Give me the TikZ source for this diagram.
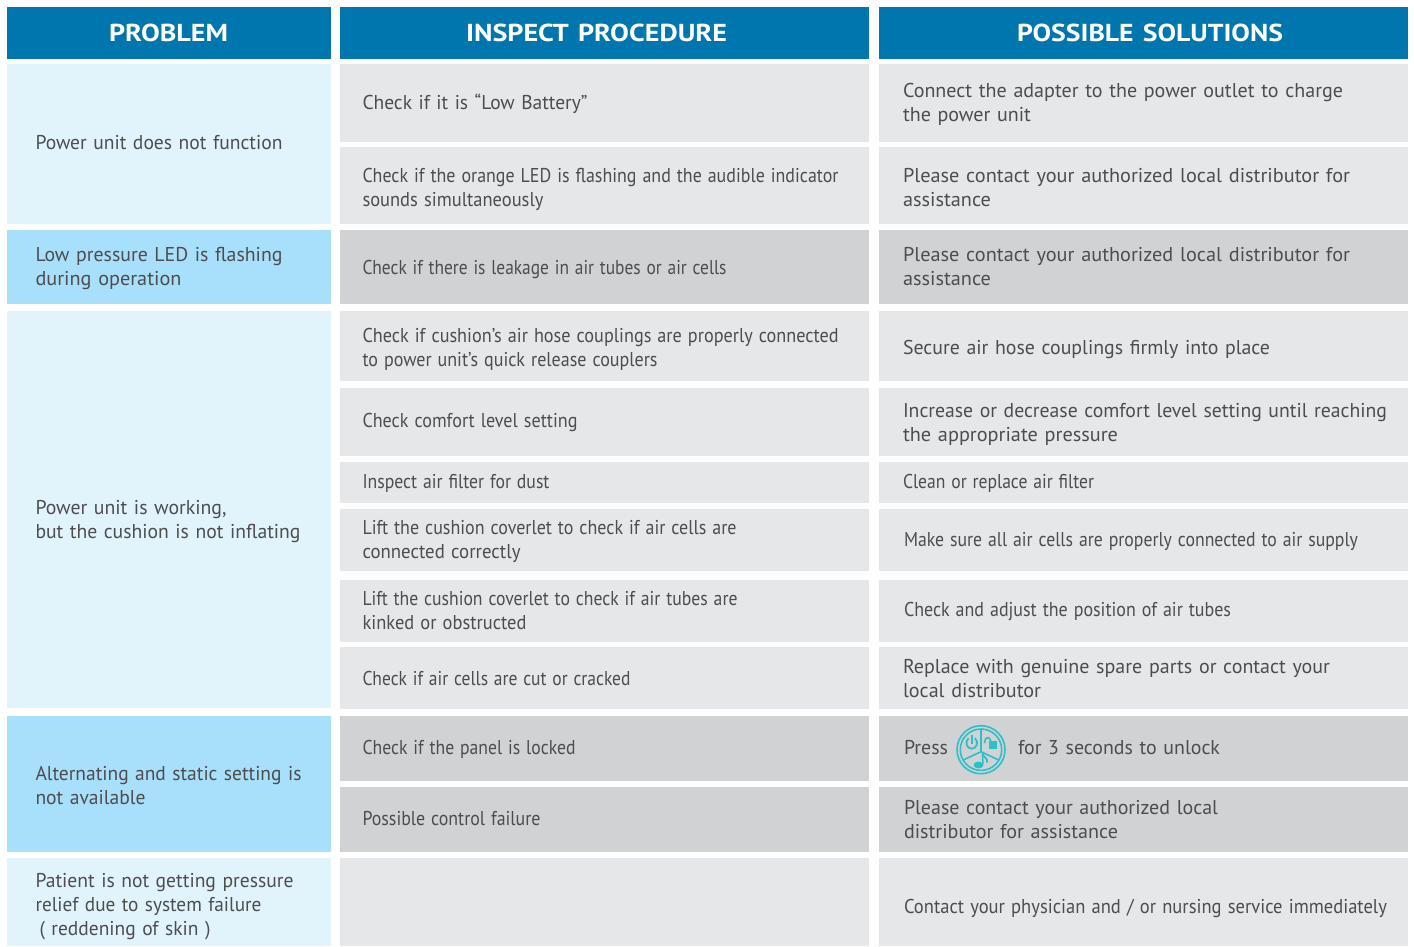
\documentclass[tikz,border=0pt]{standalone}
\usepackage{fontspec}
\usepackage{graphicx}
\setmainfont{PT Sans}
\definecolor{hdr}{HTML}{0076AF}
\definecolor{lb}{HTML}{E1F4FC}
\definecolor{mb}{HTML}{A8DFFB}
\definecolor{lg}{HTML}{E6E7E8}
\definecolor{dg}{HTML}{D1D2D4}
\definecolor{tx}{HTML}{4D4D4F}
\definecolor{teal}{HTML}{2DC0C8}
\tikzset{
 x=1pt,y=-1pt,
 cellbox/.style={anchor=north west,inner ysep=0pt,outer sep=0pt,text=tx,align=left,font=\fontsize{20}{24}\selectfont},
 head/.style={cellbox,text=white,font=\fontsize{24.5}{28}\bfseries\selectfont}
}
% one printed line, set to the width it has in the reference
\newcommand\fitl[2]{\strut\resizebox{#1pt}{\height}{#2}}
% name, x0, y0, x1, y1, fill, inset, downward shift of the text, text
\newcommand\cellx[9]{%
 \pgfmathsetmacro\cw{#4-#2}\pgfmathsetmacro\ch{#5-#3}\pgfmathsetmacro\ct{\cw-2*#7}%
 \node[cellbox,fill=#6,inner xsep=#7pt,text width=\ct pt,minimum width=\cw pt,minimum height=\ch pt] (#1) at (#2,#3) {\rule{0pt}{\dimexpr\ht\strutbox+#8pt*2\relax}#9};}
\newcommand\headx[7]{%
 \pgfmathsetmacro\cw{#4-#2}\pgfmathsetmacro\ch{#5-#3}\pgfmathsetmacro\ct{\cw-2*#6}%
 \node[head,fill=hdr,inner xsep=#6pt,text width=\ct pt,minimum width=\cw pt,minimum height=\ch pt] (#1) at (#2,#3) {\rule{0pt}{\dimexpr\ht\strutbox+6pt\relax}#7};}
\begin{document}
\begin{tikzpicture}
\useasboundingbox (0,0) rectangle (1414,946);
\headx{h1}{7}{7}{331}{59}{102}{\fitl{119}{PROBLEM}}
\headx{h2}{340}{7}{869}{59}{126}{\fitl{261}{INSPECT PROCEDURE}}
\headx{h3}{879}{7}{1408}{59}{138}{\fitl{266}{POSSIBLE SOLUTIONS}}
% column 1
\cellx{p1}{7}{64}{331}{224}{lb}{28.5}{1}{\fitl{247}{Power unit does not function}}
\cellx{p2}{7}{230}{331}{304}{mb}{28.5}{2}{\fitl{247}{Low pressure LED is flashing}\\\fitl{146}{during operation}}
\cellx{p3}{7}{311}{331}{708}{lb}{28.5}{12}{\fitl{191}{Power unit is working,}\\\fitl{265}{but the cushion is not inflating}}
\cellx{p4}{7}{716}{331}{852}{mb}{28.5}{4}{\fitl{266}{Alternating and static setting is}\\\fitl{110}{not available}}
\cellx{p5}{7}{858}{331}{946}{lb}{28.5}{5}{\fitl{258}{Patient is not getting pressure}\\\fitl{226}{relief due to system failure}\\\hspace{4pt}\fitl{171}{( reddening of skin )}}
% column 2
\cellx{i1}{340}{64}{869}{142}{lg}{22.5}{2}{\fitl{225}{Check if it is “Low Battery”}}
\cellx{i2}{340}{147}{869}{224}{lg}{22.5}{4}{\fitl{476}{Check if the orange LED is flashing and the audible indicator}\\\fitl{181}{sounds simultaneously}}
\cellx{i3}{340}{230}{869}{304}{dg}{22.5}{3}{\fitl{364}{Check if there is leakage in air tubes or air cells}}
\cellx{i4}{340}{311}{869}{381}{lg}{22.5}{3.5}{\fitl{476}{Check if cushion’s air hose couplings are properly connected}\\\fitl{295}{to power unit’s quick release couplers}}
\cellx{i5}{340}{388}{869}{456}{lg}{22.5}{1}{\fitl{215}{Check comfort level setting}}
\cellx{i6}{340}{462}{869}{503}{lg}{22.5}{1}{\fitl{187}{Inspect air filter for dust}}
\cellx{i7}{340}{509}{869}{571}{lg}{22.5}{2}{\fitl{374}{Lift the cushion coverlet to check if air cells are}\\\fitl{158}{connected correctly}}
\cellx{i8}{340}{580}{869}{642}{lg}{22.5}{1.5}{\fitl{375}{Lift the cushion coverlet to check if air tubes are}\\\fitl{164}{kinked or obstructed}}
\cellx{i9}{340}{647}{869}{709}{lg}{22.5}{3}{\fitl{268}{Check if air cells are cut or cracked}}
\cellx{i10}{340}{716}{869}{781}{dg}{22.5}{1}{\fitl{213}{Check if the panel is locked}}
\cellx{i11}{340}{787}{869}{852}{dg}{22.5}{1}{\fitl{178}{Possible control failure}}
\cellx{i12}{340}{858}{869}{946}{lg}{22.5}{0}{}
% column 3
\cellx{s1}{879}{64}{1408}{142}{lg}{24}{2}{\fitl{440}{Connect the adapter to the power outlet to charge}\\\fitl{128}{the power unit}}
\cellx{s2}{879}{147}{1408}{224}{lg}{24}{4}{\fitl{447}{Please contact your authorized local distributor for}\\\fitl{88}{assistance}}
\cellx{s3}{879}{230}{1408}{304}{dg}{24}{2}{\fitl{447}{Please contact your authorized local distributor for}\\\fitl{88}{assistance}}
\cellx{s4}{879}{311}{1408}{381}{lg}{24}{4}{\fitl{367}{Secure air hose couplings firmly into place}}
\cellx{s5}{879}{388}{1408}{456}{lg}{24}{3}{\fitl{484}{Increase or decrease comfort level setting until reaching}\\\fitl{215}{the appropriate pressure}}
\cellx{s6}{879}{462}{1408}{503}{lg}{24}{1}{\fitl{191}{Clean or replace air filter}}
\cellx{s7}{879}{509}{1408}{571}{lg}{25}{2}{\fitl{454}{Make sure all air cells are properly connected to air supply}}
\cellx{s8}{879}{580}{1408}{642}{lg}{25}{1}{\fitl{327}{Check and adjust the position of air tubes}}
\cellx{s9}{879}{647}{1408}{709}{lg}{24}{3}{\fitl{427}{Replace with genuine spare parts or contact your}\\\fitl{138}{local distributor}}
\cellx{s10}{879}{716}{1408}{781}{dg}{25}{1}{\fitl{44}{Press}\hspace{70pt}\fitl{202}{for 3 seconds to unlock}}
\cellx{s11}{879}{787}{1408}{852}{dg}{25}{2}{\fitl{314}{Please contact your authorized local}\\\fitl{214}{distributor for assistance}}
\cellx{s12}{879}{858}{1408}{946}{lg}{25}{7}{\fitl{483}{Contact your physician and / or nursing service immediately}}
% icon
\begin{scope}[shift={(981,749.7)},teal]
 \draw[line width=1.6pt] (0,0) circle[radius=24];
 \draw[line width=1.6pt] (0,0) circle[radius=20.7];
 \draw[line width=1.6pt] (0,2) -- (0,-20.7) (0,2) -- (18.2,10.5) (0,2) -- (-18.2,10.5);
 \draw[line width=1.8pt] (-12.5,-11.5) .. controls (-16.5,-8) and (-14.5,-1) .. (-9.3,-1) .. controls (-4,-1) and (-2,-8) .. (-6.1,-11.5);
 \draw[line width=1.8pt] (-9.3,-15) -- (-9.3,-6);
 \fill (8.3,-8.7) rectangle (16.3,-1);
 \draw[line width=1.6pt] (10,-8.7) -- (9.5,-9.5) .. controls (8.5,-13.5) and (3.5,-13) .. (3.5,-6.5);
 \fill (-2.5,15.3) ellipse[x radius=5,y radius=3.4];
 \fill (1.2,15) -- (0.8,3.7) -- (2.2,3.7) -- (2.7,14) -- cycle;
 \draw[line width=1.8pt] (1.5,4) .. controls (3,8.5) and (7,8) .. (6,13);
\end{scope}
\end{tikzpicture}
\end{document}
